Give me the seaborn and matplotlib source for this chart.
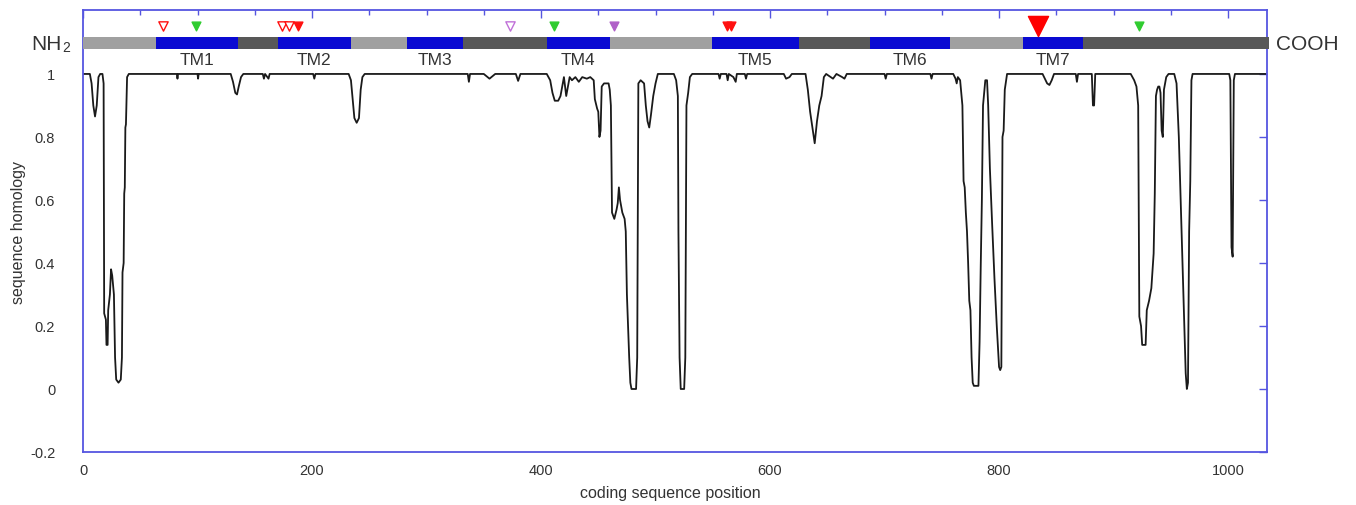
import matplotlib
matplotlib.use("Agg")
import matplotlib.pyplot as plt
import seaborn as sns
import numpy as np
import pandas as pd

# ---- homology profile along the coding sequence ----
position = [
    0, 6, 7.5, 9, 10.5, 12, 13.5, 15, 17, 18, 18.5, 20, 20.5, 21.5, 22, 23.5, 24.5,
    25.5, 27, 28, 29, 31, 33, 34, 34.5, 35.5, 36, 36.5, 37, 37.5, 38.5, 40,
    82, 82.5, 83, 100, 100.5, 101, 129, 131, 133, 134.5, 136, 138, 140,
    157, 158, 159, 162, 163, 201, 202, 203,
    232, 234, 235.5, 237, 239, 241, 242.5, 244, 246,
    336, 337, 338, 350, 355, 360, 378, 380, 382,
    405, 408, 410, 412, 415, 417, 419, 420, 422, 423, 425, 427, 430, 433, 436,
    440, 443, 446, 447, 449, 450, 451, 452, 453, 455, 459, 460, 461, 462, 464,
    466, 467, 468, 469, 471, 473, 474, 475, 477, 478, 479, 483, 484, 485, 487,
    490, 491.5, 493, 494.5, 496, 498, 500, 502, 516, 518, 519.5, 520, 521, 522,
    525, 526, 527, 528.5, 530, 532,
    555, 556, 557, 562, 563, 564, 568, 570, 571, 578, 579, 580, 612, 614, 617, 619,
    631, 633, 635, 637, 639, 641, 643, 645, 647, 649, 653, 655, 658, 663, 665, 667,
    700, 701, 702, 740, 741, 742,
    760, 762, 763, 764, 766, 768, 769, 770, 771, 772, 773, 774, 775, 776, 777, 778,
    782, 783, 784, 785, 786, 788, 789.5, 790.5, 792, 794, 796, 798, 800, 801, 802,
    803, 804, 805, 807,
    838, 840, 842, 844, 846, 848, 867, 868, 869, 881, 882, 883, 884,
    915, 918, 920, 921.5, 922.5, 924, 925, 928, 929, 931, 933, 935, 936, 937, 938,
    939, 940, 941, 942, 943, 944, 946, 948, 953, 955, 957, 959, 961, 963, 964, 965,
    966, 967, 968, 969, 1001, 1002, 1003, 1004, 1005, 1006, 1033,
]
homology = [
    1.0, 1.0, 0.97, 0.9, 0.865, 0.9, 0.99, 1.0, 1.0, 0.97, 0.24, 0.22, 0.14, 0.14, 0.25, 0.3, 0.38,
    0.36, 0.3, 0.1, 0.03, 0.02, 0.03, 0.1, 0.37, 0.4, 0.62, 0.64, 0.83, 0.84, 0.99, 1.0,
    1.0, 0.985, 1.0, 1.0, 0.985, 1.0, 1.0, 0.975, 0.94, 0.935, 0.96, 0.99, 1.0,
    1.0, 0.985, 1.0, 0.985, 1.0, 1.0, 0.985, 1.0,
    1.0, 0.98, 0.92, 0.86, 0.845, 0.86, 0.95, 0.99, 1.0,
    1.0, 0.975, 1.0, 1.0, 0.985, 1.0, 1.0, 0.978, 1.0,
    1.0, 0.98, 0.94, 0.915, 0.915, 0.93, 0.97, 0.99, 0.93, 0.95, 0.99, 0.98, 0.99, 0.975, 0.99,
    0.985, 0.99, 0.98, 0.92, 0.89, 0.88, 0.8, 0.82, 0.96, 0.97, 0.97, 0.95, 0.9, 0.56, 0.54,
    0.57, 0.59, 0.64, 0.6, 0.56, 0.54, 0.5, 0.3, 0.1, 0.02, 0.0, 0.0, 0.1, 0.97, 0.98,
    0.97, 0.9, 0.85, 0.83, 0.87, 0.93, 0.97, 1.0, 1.0, 0.98, 0.93, 0.5, 0.1, 0.0,
    0.0, 0.1, 0.9, 0.94, 0.99, 1.0,
    1.0, 0.985, 1.0, 1.0, 0.98, 1.0, 0.99, 0.975, 1.0, 1.0, 0.985, 1.0, 1.0, 0.985, 0.99, 1.0,
    1.0, 0.95, 0.88, 0.83, 0.78, 0.85, 0.9, 0.93, 0.99, 1.0, 0.99, 0.985, 1.0, 0.99, 0.985, 1.0,
    1.0, 0.985, 1.0, 1.0, 0.985, 1.0,
    1.0, 0.985, 0.97, 0.99, 0.98, 0.9, 0.66, 0.64, 0.56, 0.5, 0.4, 0.28, 0.25, 0.1, 0.02, 0.01,
    0.01, 0.15, 0.39, 0.6, 0.9, 0.98, 0.98, 0.9, 0.7, 0.52, 0.35, 0.2, 0.07, 0.06, 0.07,
    0.8, 0.82, 0.95, 1.0,
    1.0, 0.985, 0.97, 0.965, 0.98, 1.0, 1.0, 0.975, 1.0, 1.0, 0.9, 0.9, 1.0,
    1.0, 0.98, 0.96, 0.9, 0.23, 0.2, 0.14, 0.14, 0.25, 0.28, 0.32, 0.43, 0.62, 0.93, 0.95,
    0.96, 0.96, 0.94, 0.82, 0.8, 0.95, 0.99, 1.0, 1.0, 0.97, 0.8, 0.55, 0.3, 0.05, 0.0, 0.02,
    0.5, 0.66, 0.98, 1.0, 1.0, 0.98, 0.45, 0.42, 0.98, 1.0, 1.0,
]

# ---- protein topology: domain boundaries ----
domain_start = [0, 64, 135, 170, 234, 283, 332, 405, 460, 549, 625, 687, 757, 821, 873]
domain_end = [64, 135, 170, 234, 283, 332, 405, 460, 549, 625, 687, 757, 821, 873, 1036]
domain_kind = ["out", "TM", "in", "TM", "out", "TM", "in", "TM", "out", "TM", "in", "TM",
               "out", "TM", "in"]
tm_names = ["TM1", "TM2", "TM3", "TM4", "TM5", "TM6", "TM7"]

# ---- marked sites ----
red_open = [70, 174, 180]
red_filled = [188, 562, 566]
red_large = [834]
green_filled = [98.5, 411, 922]
violet_open = [373]
violet_filled = [464]

sns.set_theme(style="white")
plt.rcParams["font.family"] = ["Liberation Sans", "DejaVu Sans"]

FRAME = "#5555e0"
TEXT = "#333333"
kind_color = {"out": "#a0a0a0", "in": "#585858", "TM": "#0a0ad2"}

fig = plt.figure(figsize=(13.56, 5.06), dpi=100)
ax = fig.add_axes([83 / 1356, 1 - 453 / 506, 1184 / 1356, 442 / 506])

df = pd.DataFrame({"pos": position, "hom": homology})
sns.lineplot(data=df, x="pos", y="hom", estimator=None, sort=False,
             color="#1a1a1a", linewidth=1.3, ax=ax)

# topology bar
bar_y, bar_h = 1.098, 0.038
starts = np.array(domain_start, dtype=float)
widths = np.array(domain_end, dtype=float) - starts
ax.barh(bar_y, widths, left=starts, height=bar_h,
        color=[kind_color[k] for k in domain_kind], linewidth=0, clip_on=False, zorder=3)

tm_idx = [i for i, k in enumerate(domain_kind) if k == "TM"]
for name, i in zip(tm_names, tm_idx):
    ax.text((domain_start[i] + domain_end[i]) / 2, 1.047, name, ha="center", va="center",
            fontsize=12.5, color=TEXT)

# site markers
mk_y = 1.153
def sites(xs, face, edge, size):
    sns.scatterplot(x=xs, y=[mk_y] * len(xs), marker="v", s=size, color=face,
                    edgecolor=edge, linewidth=1.0, ax=ax, zorder=4, clip_on=False)

sites(red_open, "white", "#ff1010", 45)
sites(red_filled, "#ff1010", "#ff1010", 40)
sites(red_large, "#ff0000", "#ff0000", 210)
sites(green_filled, "#30cc30", "#30cc30", 40)
sites(violet_open, "white", "#c070d8", 45)
sites(violet_filled, "#b060c8", "#b060c8", 40)

# terminus labels
ax.text(-0.018, bar_y, "NH", transform=ax.get_yaxis_transform(), ha="right",
        va="center", fontsize=15, color=TEXT)
ax.text(-0.0175, bar_y - 0.014, "2", transform=ax.get_yaxis_transform(), ha="left",
        va="center", fontsize=10, color=TEXT)
ax.text(1.008, bar_y, "COOH", transform=ax.get_yaxis_transform(), ha="left",
        va="center", fontsize=15, color=TEXT)

# axes
ax.set_xlim(0, 1034)
ax.set_ylim(-0.2, 1.203)
ax.set_xticks([0, 200, 400, 600, 800, 1000])
ax.set_xticks(np.arange(0, 1034, 50), minor=True)
yt = [-0.2, 0, 0.2, 0.4, 0.6, 0.8, 1.0]
ax.set_yticks(yt)
ax.set_yticklabels(["-0.2", "0", "0.2", "0.4", "0.6", "0.8", "1"])
ax.tick_params(axis="both", which="both", direction="in", top=True, right=True,
               color=FRAME, labelcolor=TEXT, labelsize=10.5)
ax.tick_params(axis="both", which="major", length=6, width=1)
ax.tick_params(axis="both", which="minor", length=3.5, width=1)
ax.tick_params(axis="y", pad=20)
ax.tick_params(axis="x", pad=8)
for sp in ax.spines.values():
    sp.set_color(FRAME)
    sp.set_linewidth(1.3)

ax.set_xlabel("coding sequence position", fontsize=11.5, color=TEXT)
ax.set_ylabel("sequence homology", fontsize=11.5, color=TEXT)
ax.xaxis.set_label_coords(0.496, -0.074)
ax.yaxis.set_label_coords(-0.048, 0.5)

fig.savefig("out.png", dpi=100, facecolor="white")
